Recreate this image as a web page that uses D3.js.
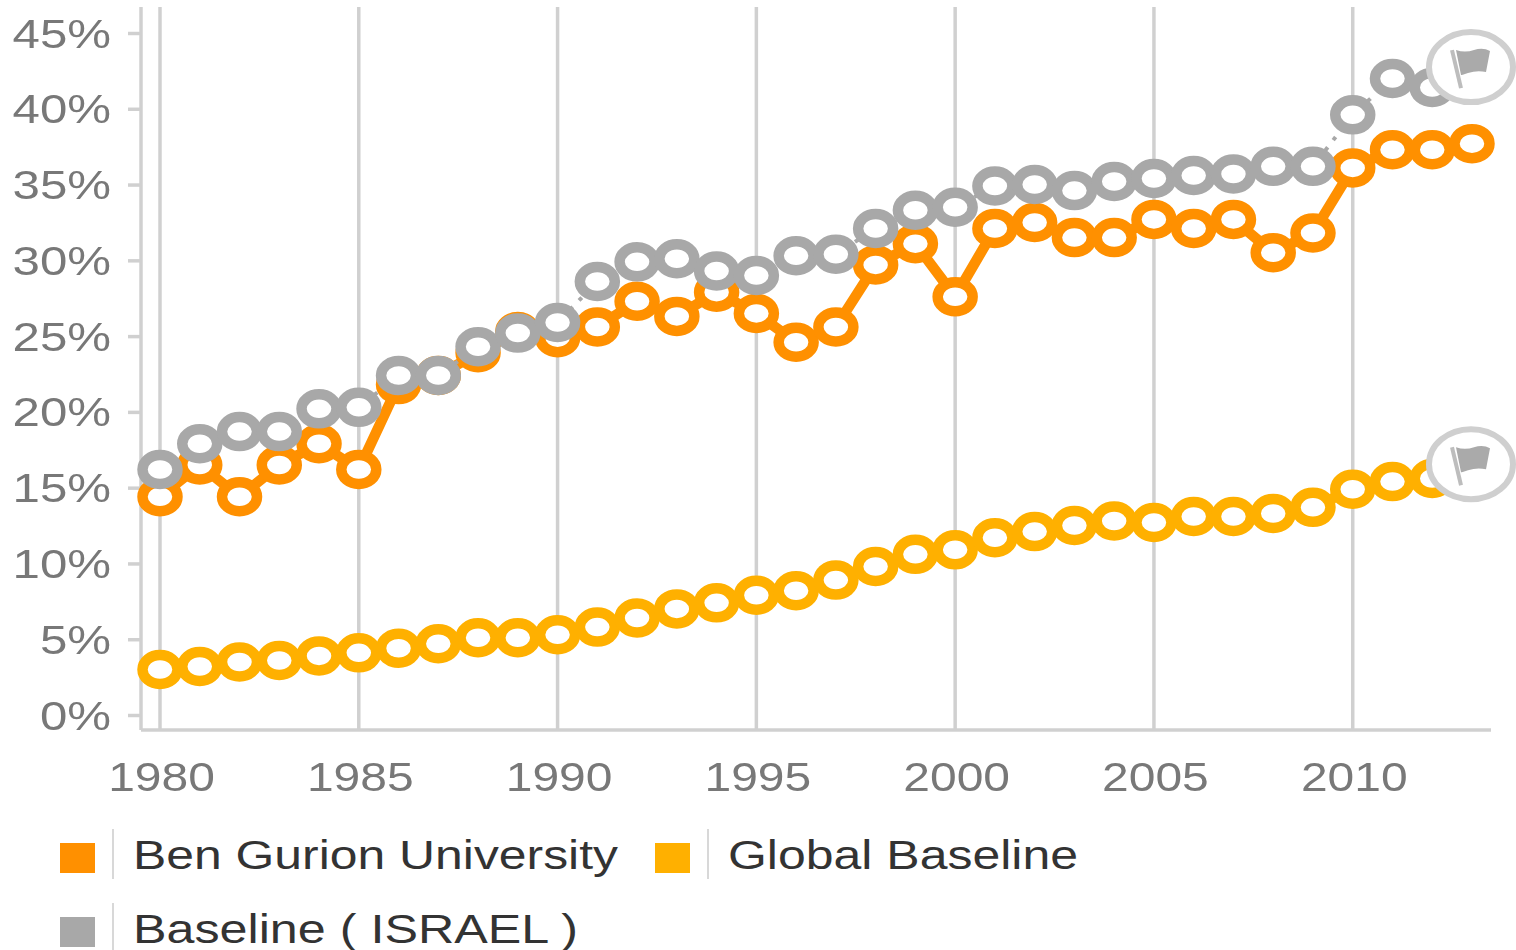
<!DOCTYPE html>
<html>
<head>
  <meta charset="utf-8">
  <style>
    body { margin: 0; background: #fff; }
    text { font-family: "Liberation Sans", Arial, sans-serif; }
    .axis text { font-size: 41px; fill: #787878; }
    .axis path, .axis line { stroke: #d0d0d0; stroke-width: 3.5px; }
    .legend text { font-size: 41px; fill: #333; }
    .ring { fill: #fff; stroke-width: 10.5px; }
  </style>
</head>
<body>
  <svg width="1516" height="950"></svg>
  <script src="https://d3js.org/d3.v7.min.js"></script>
  <script>

  var years = d3.range(1980, 2014);
  var yTicks = [0, 5, 10, 15, 20, 25, 30, 35, 40, 45];
  var xTicks = [1980, 1985, 1990, 1995, 2000, 2005, 2010];

  var benGurion = [14.4, 16.5, 14.4, 16.5, 17.9, 16.2, 21.8, 22.4, 23.9, 25.3, 24.9, 25.6, 27.3, 26.3, 27.9, 26.5, 24.6,
    25.6, 29.7, 31.1, 27.6, 32.1, 32.5, 31.5, 31.5, 32.7, 32.1, 32.7, 30.5, 31.8, 36.1, 37.3, 37.3, 37.7];
  var globalBaseline = [3.0, 3.2, 3.5, 3.6, 3.9, 4.1, 4.4, 4.7, 5.1, 5.1, 5.3, 5.8, 6.4, 7.0, 7.4, 7.9, 8.2,
    8.9, 9.8, 10.6, 10.9, 11.7, 12.1, 12.5, 12.8, 12.7, 13.1, 13.1, 13.3, 13.7, 14.9, 15.4, 15.6];
  var israelBaseline = [16.2, 17.9, 18.7, 18.7, 20.2, 20.3, 22.4, 22.4, 24.3, 25.2, 25.9, 28.6, 29.9, 30.1, 29.3, 29.0, 30.3,
    30.4, 32.1, 33.3, 33.5, 34.9, 35.0, 34.6, 35.2, 35.4, 35.6, 35.7, 36.2, 36.2, 39.6, 42.0, 41.4];

  var seriesNames = ["Ben Gurion University", "Global Baseline", "Baseline ( ISRAEL )"];
  var seriesColors = ["#ff9000", "#ffb000", "#a8a8a8"];
  var flagValues = [42.75, 16.55];

  var svg = d3.select("svg");

  var x = d3.scaleLinear().domain([1980, 2013]).range([160, 1472]);
  var y = d3.scaleLinear().domain([0, 45]).range([715, 33]);

  var plotTop = 7, plotBottom = 730, plotLeft = 141, plotRight = 1491;

  var defs = svg.append("defs");
  defs.append("filter").attr("id", "soft")
    .append("feGaussianBlur").attr("stdDeviation", 0.6);

  var plot = svg.append("g").attr("filter", "url(#soft)");

  // vertical grid lines every five years
  plot.append("g").selectAll("line")
    .data(xTicks)
    .enter().append("line")
    .attr("x1", x).attr("x2", x)
    .attr("y1", plotTop).attr("y2", plotBottom)
    .attr("stroke", "#d0d0d0")
    .attr("stroke-width", 3.5);

  var xAxis = plot.append("g")
    .attr("class", "axis")
    .attr("transform", "translate(0," + plotBottom + ")")
    .call(d3.axisBottom(x).tickValues(xTicks).tickFormat(d3.format("d")).tickSize(0).tickSizeOuter(0));
  xAxis.select(".domain").attr("d", "M" + plotLeft + ",0H" + plotRight);
  xAxis.selectAll("text")
    .attr("y", 0).attr("dy", 0)
    .attr("transform", "translate(1,61) scale(1.17,1)");

  var yAxis = plot.append("g")
    .attr("class", "axis")
    .attr("transform", "translate(" + plotLeft + ",0)")
    .call(d3.axisLeft(y).tickValues(yTicks).tickFormat(function(d) { return d + "%"; }).tickSize(13).tickSizeOuter(0));
  yAxis.select(".domain").attr("d", "M0," + plotTop + "V" + plotBottom);
  yAxis.selectAll("text")
    .attr("x", 0).attr("dy", 0)
    .attr("transform", "translate(-30,14) scale(1.2,1)");

  function drawSeries(values, color, dotted) {
    var g = plot.append("g");
    var line = d3.line()
      .x(function(d, i) { return x(years[i]); })
      .y(function(d) { return y(d); });

    g.append("path")
      .attr("d", line(values))
      .attr("fill", "none")
      .attr("stroke", color)
      .attr("stroke-width", dotted ? 4 : 10.5)
      .attr("stroke-dasharray", dotted ? "4,9" : null);

    g.selectAll("ellipse")
      .data(values)
      .enter().append("ellipse")
      .attr("class", "ring")
      .attr("cx", function(d, i) { return x(years[i]); })
      .attr("cy", function(d) { return y(d); })
      .attr("rx", 17.5)
      .attr("ry", 14.5)
      .attr("stroke", color);
  }

  drawSeries(benGurion, seriesColors[0], false);
  drawSeries(globalBaseline, seriesColors[1], false);
  drawSeries(israelBaseline, seriesColors[2], true);

  // flag badges at the end of the baselines
  var flags = plot.append("g").selectAll("g")
    .data(flagValues)
    .enter().append("g")
    .attr("transform", function(d) { return "translate(" + (x(2013) - 1) + "," + y(d) + ")"; });

  flags.append("ellipse")
    .attr("rx", 42).attr("ry", 35)
    .attr("fill", "#fff")
    .attr("stroke", "#cfcfcf")
    .attr("stroke-width", 6);

  flags.append("path")
    .attr("d", "M-19,-17L-10,21")
    .attr("stroke", "#bdbdbd")
    .attr("stroke-width", 4);

  flags.append("path")
    .attr("d", "M-15,-17Q-6,-14 3,-17T19,-16L15,5Q6,3 -3,6T-10,8Z")
    .attr("fill", "#aaa");

  // legend
  var legendPos = [[60, 843, 485], [655, 843, 350], [60, 917, 445]];

  var legend = svg.append("g").attr("class", "legend").selectAll("g")
    .data(seriesNames)
    .enter().append("g")
    .attr("transform", function(d, i) { return "translate(" + legendPos[i][0] + "," + legendPos[i][1] + ")"; });

  legend.append("rect")
    .attr("width", 35).attr("height", 30)
    .attr("fill", function(d, i) { return seriesColors[i]; });

  legend.append("line")
    .attr("x1", 53).attr("x2", 53)
    .attr("y1", -14).attr("y2", 36)
    .attr("stroke", "#d8d8d8")
    .attr("stroke-width", 2);

  legend.append("text")
    .attr("x", 73).attr("y", 26)
    .attr("textLength", function(d, i) { return legendPos[i][2]; })
    .attr("lengthAdjust", "spacingAndGlyphs")
    .text(function(d) { return d; });

  </script>
</body>
</html>
